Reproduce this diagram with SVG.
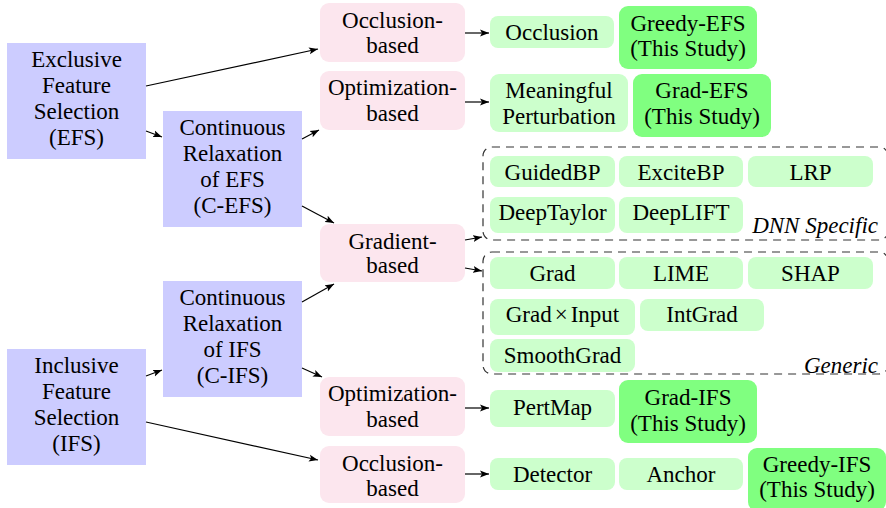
<svg xmlns="http://www.w3.org/2000/svg" width="886" height="508" viewBox="0 0 886 508" font-family="Liberation Serif, DejaVu Serif, serif">
<defs>
<marker id="ah" markerWidth="10" markerHeight="8" refX="9" refY="4" orient="auto" markerUnits="userSpaceOnUse">
<path d="M0,0.5 L9,4 L0,7.5 L2,4 z" fill="#000"/>
</marker>
<style>
text{font-size:23px;fill:#000;text-anchor:middle}
.it{font-style:italic;text-anchor:end}
.blue{fill:#ccccff}
.pink{fill:#fce6ee}
.lg{fill:#ccffcc}
.dg{fill:#80ff80}
.dash{fill:none;stroke:#333;stroke-width:1.2;stroke-dasharray:8 6}
.conn line{stroke:#000;stroke-width:1.2;marker-end:url(#ah)}
</style>
</defs>
<rect width="886" height="508" fill="#fff"/>

<g id="groups">
<rect class="dash" x="483" y="147" width="405" height="93" rx="9"/>
<rect class="dash" x="483" y="252" width="405" height="122" rx="9"/>
<text class="it" x="878" y="233">DNN Specific</text>
<text class="it" x="878" y="373">Generic</text>
</g>

<g id="efs"><rect class="blue" x="7" y="43" width="139" height="116"/>
<text x="76.5" y="67">Exclusive</text><text x="76.5" y="93">Feature</text><text x="76.5" y="119">Selection</text><text x="76.5" y="145">(EFS)</text></g>
<g id="cefs"><rect class="blue" x="163" y="111" width="139" height="116"/>
<text x="232.5" y="135">Continuous</text><text x="232.5" y="161">Relaxation</text><text x="232.5" y="187">of EFS</text><text x="232.5" y="213">(C-EFS)</text></g>
<g id="cifs"><rect class="blue" x="163" y="281" width="139" height="116"/>
<text x="232.5" y="305">Continuous</text><text x="232.5" y="331">Relaxation</text><text x="232.5" y="357">of IFS</text><text x="232.5" y="383">(C-IFS)</text></g>
<g id="ifs"><rect class="blue" x="7" y="349" width="139" height="116"/>
<text x="76.5" y="373">Inclusive</text><text x="76.5" y="399">Feature</text><text x="76.5" y="425">Selection</text><text x="76.5" y="451">(IFS)</text></g>

<g id="occ1"><rect class="pink" x="320" y="3" width="145" height="59" rx="9"/>
<text x="392.5" y="28">Occlusion-</text><text x="392.5" y="53">based</text></g>
<g id="opt1"><rect class="pink" x="320" y="71" width="145" height="59" rx="9"/>
<text x="392.5" y="95">Optimization-</text><text x="392.5" y="121">based</text></g>
<g id="grad"><rect class="pink" x="320" y="224" width="145" height="58" rx="9"/>
<text x="392.5" y="249">Gradient-</text><text x="392.5" y="273">based</text></g>
<g id="opt2"><rect class="pink" x="320" y="377" width="145" height="59" rx="9"/>
<text x="392.5" y="401">Optimization-</text><text x="392.5" y="427">based</text></g>
<g id="occ2"><rect class="pink" x="320" y="446" width="145" height="57" rx="9"/>
<text x="392.5" y="471">Occlusion-</text><text x="392.5" y="496">based</text></g>

<g id="occlusion"><rect class="lg" x="490" y="16" width="124" height="32" rx="8"/><text x="552" y="40">Occlusion</text></g>
<g id="greedyefs"><rect class="dg" x="619" y="6" width="138" height="63" rx="9"/>
<text x="688" y="31">Greedy-EFS</text><text x="688" y="56">(This Study)</text></g>
<g id="mp"><rect class="lg" x="490" y="74" width="138" height="58" rx="9"/>
<text x="559" y="98">Meaningful</text><text x="559" y="124">Perturbation</text></g>
<g id="gradefs"><rect class="dg" x="633" y="74" width="138" height="63" rx="9"/>
<text x="702" y="98">Grad-EFS</text><text x="702" y="124">(This Study)</text></g>

<g id="guidedbp"><rect class="lg" x="490" y="156" width="125" height="31" rx="8"/><text x="552.5" y="180">GuidedBP</text></g>
<g id="excitebp"><rect class="lg" x="619" y="156" width="124" height="31" rx="8"/><text x="681" y="180">ExciteBP</text></g>
<g id="lrp"><rect class="lg" x="748" y="156" width="125" height="31" rx="8"/><text x="810.5" y="180">LRP</text></g>
<g id="deeptaylor"><rect class="lg" x="490" y="197" width="125" height="36" rx="8"/><text x="552.5" y="220">DeepTaylor</text></g>
<g id="deeplift"><rect class="lg" x="619" y="197" width="124" height="36" rx="8"/><text x="681" y="220">DeepLIFT</text></g>

<g id="gradn"><rect class="lg" x="490" y="257" width="125" height="32" rx="8"/><text x="552.5" y="281">Grad</text></g>
<g id="lime"><rect class="lg" x="619" y="257" width="124" height="32" rx="8"/><text x="681" y="281">LIME</text></g>
<g id="shap"><rect class="lg" x="748" y="257" width="125" height="32" rx="8"/><text x="810.5" y="281">SHAP</text></g>
<g id="gradxinput"><rect class="lg" x="490" y="299" width="145" height="36" rx="8"/><text x="562.5" y="322">Grad<tspan dx="3">×</tspan><tspan dx="3">Input</tspan></text></g>
<g id="intgrad"><rect class="lg" x="640" y="299" width="124" height="32" rx="8"/><text x="702" y="322">IntGrad</text></g>
<g id="smoothgrad"><rect class="lg" x="490" y="339" width="145" height="33" rx="8"/><text x="562.5" y="363">SmoothGrad</text></g>

<g id="pertmap"><rect class="lg" x="490" y="390" width="125" height="37" rx="8"/><text x="552.5" y="415">PertMap</text></g>
<g id="gradifs"><rect class="dg" x="619" y="380" width="138" height="63" rx="9"/>
<text x="688" y="405">Grad-IFS</text><text x="688" y="431">(This Study)</text></g>
<g id="detector"><rect class="lg" x="490" y="458" width="125" height="32" rx="8"/><text x="552.5" y="482">Detector</text></g>
<g id="anchor"><rect class="lg" x="619" y="458" width="124" height="32" rx="8"/><text x="681" y="482">Anchor</text></g>
<g id="greedyifs"><rect class="dg" x="748" y="448" width="138" height="63" rx="9"/>
<text x="817" y="472">Greedy-IFS</text><text x="817" y="497">(This Study)</text></g>

<g class="conn" id="connectors">
<line x1="146" y1="86" x2="318" y2="49"/>
<line x1="146" y1="131" x2="162" y2="137"/>
<line x1="302" y1="139" x2="319" y2="130"/>
<line x1="302" y1="206" x2="334" y2="223"/>
<line x1="465" y1="33" x2="489" y2="33"/>
<line x1="465" y1="102" x2="489" y2="102"/>
<line x1="465" y1="240" x2="482" y2="237"/>
<line x1="465" y1="268" x2="482" y2="271"/>
<line x1="302" y1="302" x2="334" y2="284"/>
<line x1="302" y1="368" x2="322" y2="377"/>
<line x1="146" y1="376" x2="162" y2="370"/>
<line x1="146" y1="422" x2="318" y2="460"/>
<line x1="465" y1="408" x2="489" y2="408"/>
<line x1="465" y1="474" x2="489" y2="474"/>
</g>
</svg>
